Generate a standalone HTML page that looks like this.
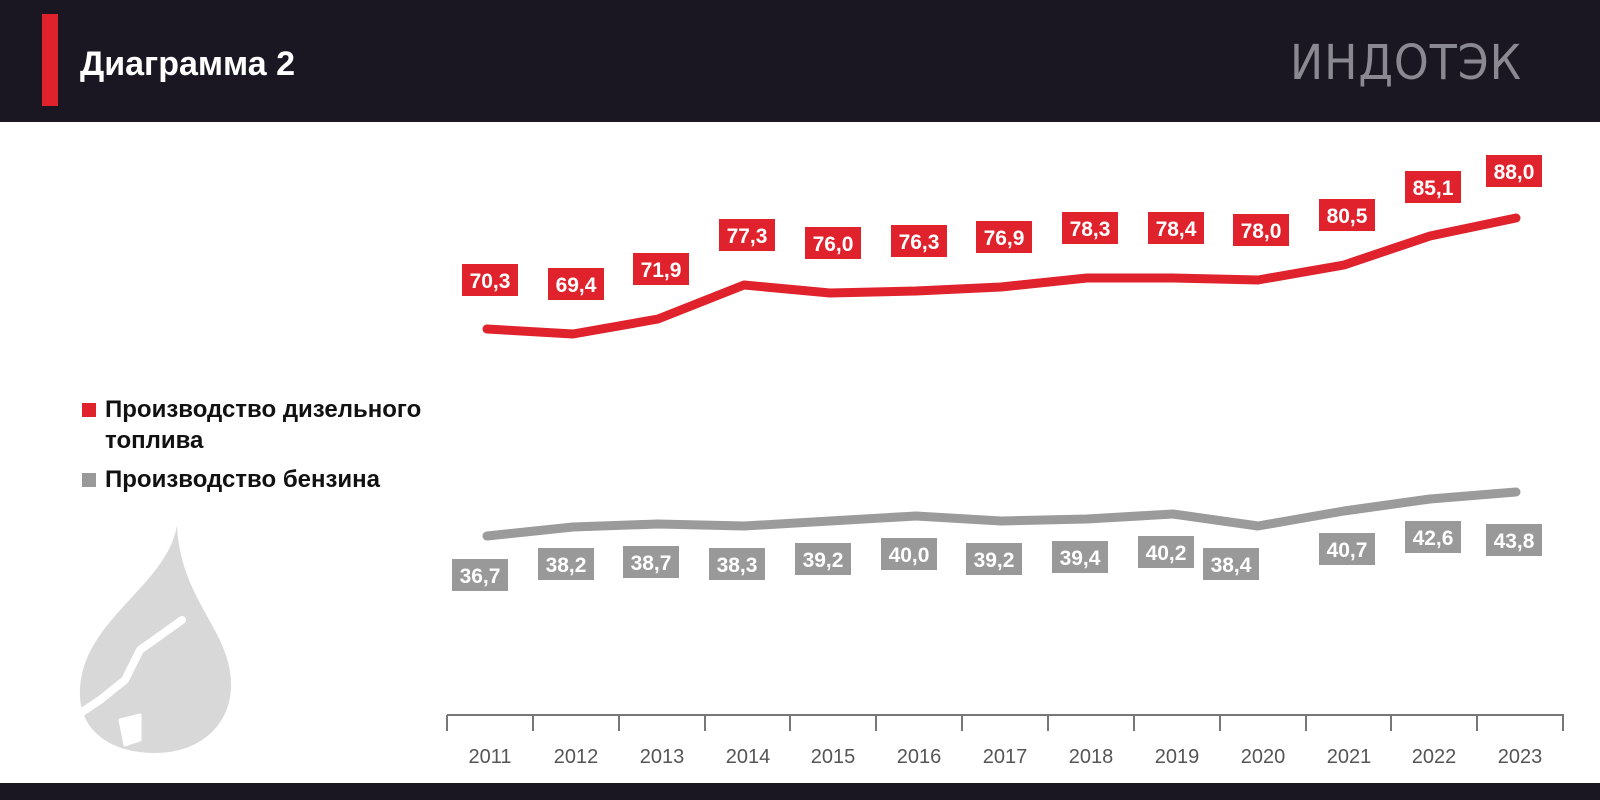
<!DOCTYPE html>
<html><head><meta charset="utf-8"><style>
html,body{margin:0;padding:0;}
body{width:1600px;height:800px;position:relative;background:#fff;overflow:hidden;font-family:"Liberation Sans","DejaVu Sans",sans-serif;}
</style></head><body>
<svg width="1600" height="800" xmlns="http://www.w3.org/2000/svg" style="position:absolute;left:0;top:0">
<rect x="0" y="0" width="1600" height="122" fill="#1b1722"/>
<rect x="42" y="14" width="16" height="92" fill="#e0222d"/>
<text x="80" y="75" fill="#fff" font-size="34" font-weight="bold" font-family="Liberation Sans, sans-serif">Диаграмма 2</text>
<text x="1290" y="79" fill="#8a8890" font-size="48" font-family="DejaVu Sans, sans-serif" font-weight="normal" letter-spacing="1" textLength="232" lengthAdjust="spacingAndGlyphs">ИНДОТЭК</text>
<path d="M0,783 H1600 V800 H0 Z" fill="#1b1722"/>

<rect x="82" y="403" width="14" height="14" fill="#e0222d"/>
<text x="105" y="417" font-size="24" font-weight="bold" fill="#111">Производство дизельного</text>
<text x="105" y="448" font-size="24" font-weight="bold" fill="#111">топлива</text>
<rect x="82" y="473" width="14" height="14" fill="#999"/>
<text x="105" y="487" font-size="24" font-weight="bold" fill="#111">Производство бензина</text>

<path d="M177,525 C168,585 82,620 80,690 C78,730 110,753 155,753 C200,753 231,725 231,685 C231,630 180,600 177,525 Z" fill="#d8d8d8"/>
<g stroke="#fff" fill="none" stroke-linecap="round" stroke-linejoin="round">
<path d="M182,620 L140,650 L125,680 L100,700 L82,712" stroke-width="8"/>
<path d="M120,720 L140,715 L140,740 L125,745 Z" fill="#fff" stroke-width="3"/>
</g>

<g stroke="#777" stroke-width="2">
<line x1="447" y1="715" x2="1564" y2="715"/>
<line x1="447" y1="715" x2="447" y2="731"/><line x1="533" y1="715" x2="533" y2="731"/><line x1="619" y1="715" x2="619" y2="731"/><line x1="705" y1="715" x2="705" y2="731"/><line x1="790" y1="715" x2="790" y2="731"/><line x1="876" y1="715" x2="876" y2="731"/><line x1="962" y1="715" x2="962" y2="731"/><line x1="1048" y1="715" x2="1048" y2="731"/><line x1="1134" y1="715" x2="1134" y2="731"/><line x1="1220" y1="715" x2="1220" y2="731"/><line x1="1306" y1="715" x2="1306" y2="731"/><line x1="1391" y1="715" x2="1391" y2="731"/><line x1="1477" y1="715" x2="1477" y2="731"/><line x1="1563" y1="715" x2="1563" y2="731"/>
</g>
<g font-size="20" fill="#555" text-anchor="middle">
<text x="490" y="763">2011</text><text x="576" y="763">2012</text><text x="662" y="763">2013</text><text x="748" y="763">2014</text><text x="833" y="763">2015</text><text x="919" y="763">2016</text><text x="1005" y="763">2017</text><text x="1091" y="763">2018</text><text x="1177" y="763">2019</text><text x="1263" y="763">2020</text><text x="1349" y="763">2021</text><text x="1434" y="763">2022</text><text x="1520" y="763">2023</text>
</g>

<polyline fill="none" stroke="#e0222d" stroke-width="9" stroke-linecap="round" stroke-linejoin="round"
points="487,329 573,334 658,319 744,285 830,293 916,291 1001,287 1087,278 1173,278 1258,280 1344,265 1430,236 1516,218"/>
<polyline fill="none" stroke="#9b9b9b" stroke-width="9" stroke-linecap="round" stroke-linejoin="round"
points="487,536 573,527 658,524 744,526 830,521 916,516 1001,521 1087,519 1173,514 1258,526 1344,511 1430,499 1516,492"/>

<g font-size="21" font-weight="bold" fill="#fff" text-anchor="middle">
<g fill="#e0222d">
<rect x="462" y="264" width="56" height="32"/><rect x="548" y="268" width="56" height="32"/><rect x="633" y="253" width="56" height="32"/><rect x="719" y="219" width="56" height="32"/><rect x="805" y="227" width="56" height="32"/><rect x="891" y="225" width="56" height="32"/><rect x="976" y="221" width="56" height="32"/><rect x="1062" y="212" width="56" height="32"/><rect x="1148" y="212" width="56" height="32"/><rect x="1233" y="214" width="56" height="32"/><rect x="1319" y="199" width="56" height="32"/><rect x="1405" y="171" width="56" height="32"/><rect x="1486" y="155" width="56" height="32"/>
</g>
<g fill="#999">
<rect x="452" y="559" width="56" height="32"/><rect x="538" y="548" width="56" height="32"/><rect x="623" y="546" width="56" height="32"/><rect x="709" y="548" width="56" height="32"/><rect x="795" y="543" width="56" height="32"/><rect x="881" y="538" width="56" height="32"/><rect x="966" y="543" width="56" height="32"/><rect x="1052" y="541" width="56" height="32"/><rect x="1138" y="536" width="56" height="32"/><rect x="1203" y="548" width="56" height="32"/><rect x="1319" y="533" width="56" height="32"/><rect x="1405" y="521" width="56" height="32"/><rect x="1486" y="524" width="56" height="32"/>
</g>
<text x="490" y="288">70,3</text><text x="576" y="292">69,4</text><text x="661" y="277">71,9</text><text x="747" y="243">77,3</text><text x="833" y="251">76,0</text><text x="919" y="249">76,3</text><text x="1004" y="245">76,9</text><text x="1090" y="236">78,3</text><text x="1176" y="236">78,4</text><text x="1261" y="238">78,0</text><text x="1347" y="223">80,5</text><text x="1433" y="195">85,1</text><text x="1514" y="179">88,0</text>
<text x="480" y="583">36,7</text><text x="566" y="572">38,2</text><text x="651" y="570">38,7</text><text x="737" y="572">38,3</text><text x="823" y="567">39,2</text><text x="909" y="562">40,0</text><text x="994" y="567">39,2</text><text x="1080" y="565">39,4</text><text x="1166" y="560">40,2</text><text x="1231" y="572">38,4</text><text x="1347" y="557">40,7</text><text x="1433" y="545">42,6</text><text x="1514" y="548">43,8</text>
</g>
</svg>
</body></html>
